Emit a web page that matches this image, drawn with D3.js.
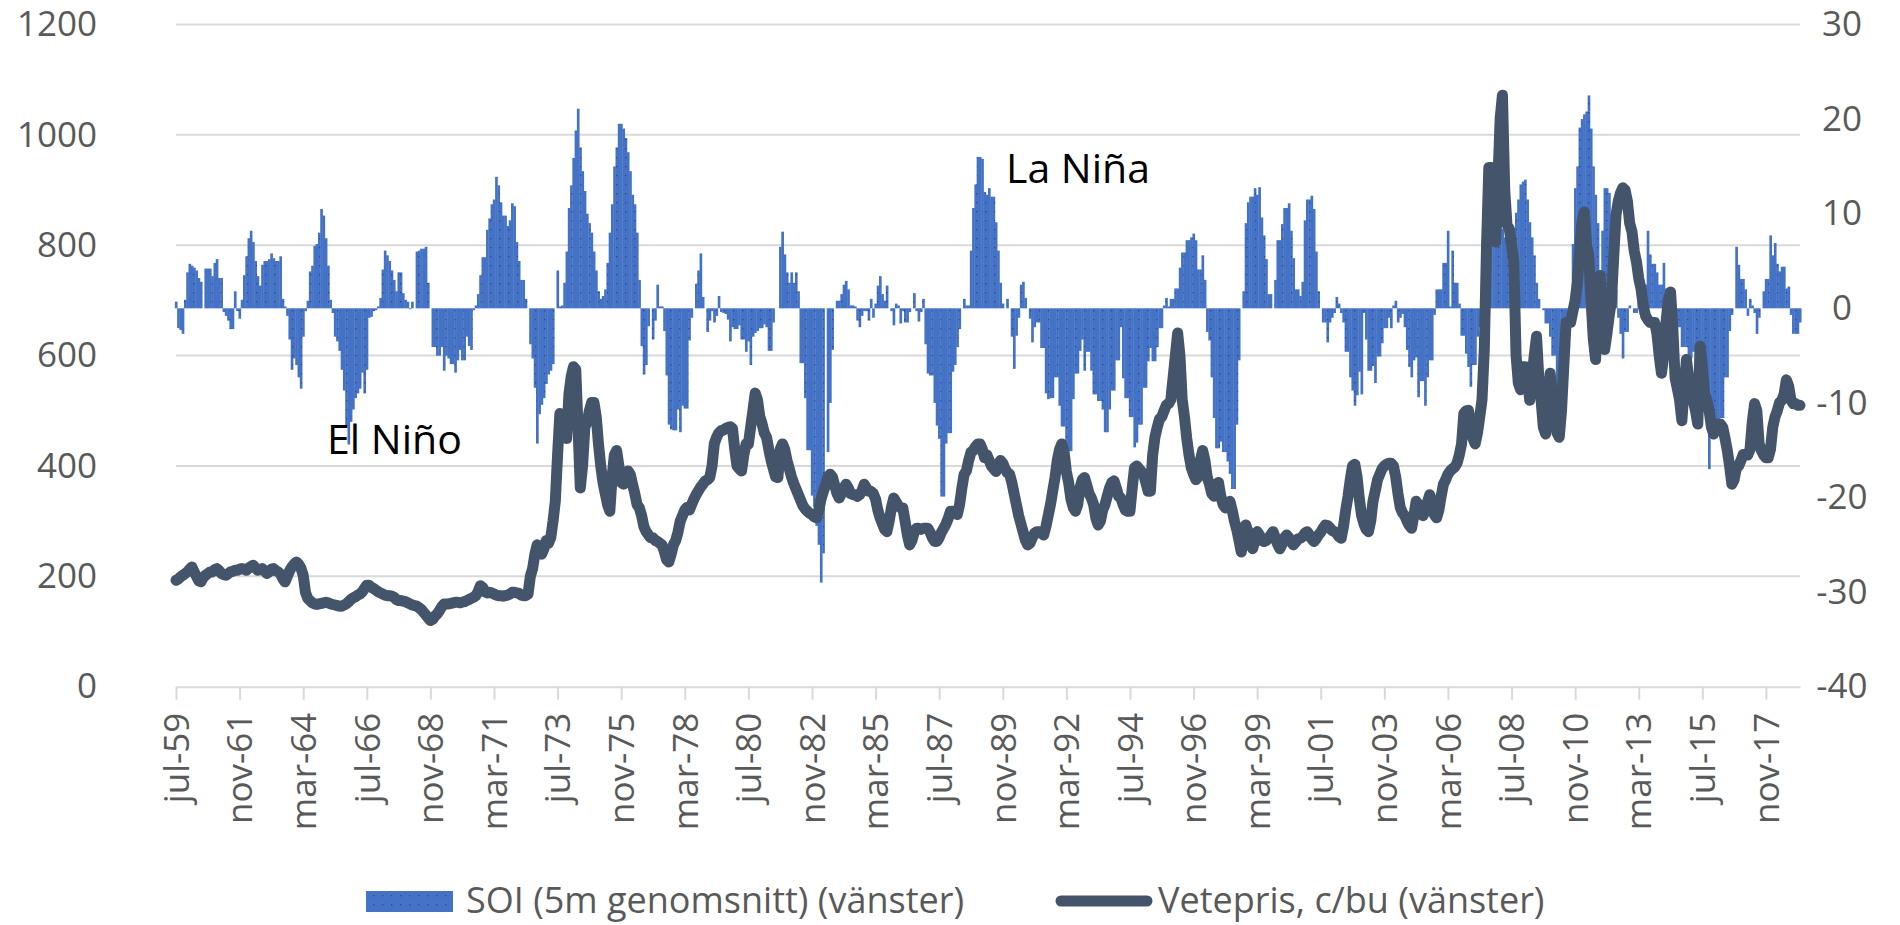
<!DOCTYPE html>
<html>
<head>
<meta charset="utf-8">
<script src="https://cdn.jsdelivr.net/npm/d3@7"></script>
<style>
  body { margin: 0; background: #fff; }
  text { font-family: "Open Sans", sans-serif; }
</style>
</head>
<body>
<script>

// monthly data, jul-59 .. feb-19
// SOI, 5 month average (right axis)
let soi_1959_1969 = [
	0.7, -2.1, -2.3, -2.7, 0.9, 3.8, 4.7, 4.5, 4.3, 4.0, 3.2, 2.8,
	0.0, 4.2, 4.2, 4.2, 3.4, 4.8, 5.2, 3.2, 3.2, -0.4, -0.8, -1.3,
	-2.2, -2.2, 1.8, -0.3, -1.1, 0.9, 3.5, 5.5, 7.4, 8.2, 7.0, 5.0,
	3.4, 2.4, 4.6, 5.0, 5.0, 5.2, 5.8, 5.3, 5.0, 5.0, 5.5, 1.0,
	0.2, -0.8, -3.3, -6.5, -5.3, -6.0, -7.3, -8.5, -3.0, -0.3, 0.8, 3.9,
	4.5, 6.6, 6.8, 8.0, 10.5, 9.8, 7.4, 4.5, 0.9, -0.5, -3.0, -3.5,
	-4.5, -6.5, -8.7, -12.4, -14.4, -12.0, -10.7, -9.5, -9.0, -8.5, -6.8, -9.0,
	-6.5, -1.0, -0.9, -0.3, -0.2, 0.2, 1.1, 4.1, 6.1, 5.6, 5.0, 4.0,
	3.0, 1.8, 3.8, 3.8, 1.6, 0.9, 0.7, -0.1, 0.7, 0.0, 6.0, 6.1,
	6.3, 6.3, 6.5, 2.7, 0.0, -4.1, -4.1, -5.0, -5.0, -4.1, -6.6, -5.0
];
let soi_1969_1979 = [
	-5.3, -5.9, -5.9, -6.8, -5.5, -4.4, -5.5, -5.5, -3.0, -4.0, -4.4, -0.2,
	0.3, 1.5, 3.5, 5.4, 5.4, 8.3, 9.5, 11.0, 11.5, 13.9, 13.0, 11.2,
	9.8, 9.8, 8.7, 9.3, 11.1, 10.8, 7.0, 5.0, 3.0, 3.0, 1.0, 0.0,
	-3.8, -5.3, -8.4, -14.3, -11.2, -10.2, -9.5, -8.0, -7.0, -6.6, -5.9, 0.0,
	4.0, 0.2, 0.3, 2.7, 6.0, 10.6, 13.0, 15.9, 18.8, 21.1, 17.0, 14.5,
	12.4, 10.0, 9.0, 8.0, 6.0, 4.0, 1.8, 1.0, 1.3, 2.0, 4.8, 8.0,
	11.0, 15.0, 17.0, 19.5, 19.5, 19.0, 18.0, 16.5, 14.5, 12.0, 11.0, 8.0,
	3.0, -4.0, -7.0, -6.0, -1.9, 0.0, -3.3, -1.3, 2.5, 0.2, 0.2, -2.4,
	-7.1, -12.3, -12.8, -12.9, -12.9, -10.7, -13.1, -10.3, -10.6, -10.6, -3.4, -1.0,
	0.0, 2.6, 4.0, 5.8, 1.2, 0.0, -2.5, -1.3, -0.3, -1.5, -0.8, 1.3
];
let soi_1979_1989 = [
	-0.4, -0.5, -0.6, -1.2, -3.5, -2.0, -2.2, -2.2, -1.8, -3.3, -3.3, -4.6,
	-3.5, -6.0, -3.0, -2.6, -2.4, -2.1, -2.1, -1.7, -2.0, -4.5, -4.5, -1.5,
	0.0, 0.0, 6.5, 8.1, 5.7, 3.8, 2.7, 3.8, 2.7, 3.8, 1.8, -5.8,
	-5.8, -9.5, -15.0, -15.0, -19.8, -21.0, -23.0, -25.0, -29.0, -25.9, 0.0, -15.2,
	-10.0, -4.4, 0.0, 0.8, 0.8, 1.5, 2.5, 2.9, 2.0, 0.3, 0.3, 0.2,
	-1.3, -2.0, -0.8, -0.3, -0.3, -1.3, 1.0, -1.0, 0.5, 2.4, 3.4, 1.5,
	0.8, 2.4, 0.0, -0.3, -1.8, 0.5, 0.3, -1.6, -0.3, -1.5, -1.5, -0.4,
	0.0, 1.6, -0.3, -1.4, -0.4, 1.0, -3.8, -6.9, -7.1, -7.1, -10.0, -12.4,
	-13.8, -19.9, -19.9, -14.3, -13.2, -13.2, -6.7, -6.0, -4.1, -2.2, 0.0, 1.0,
	0.3, 0.3, 6.1, 10.6, 13.1, 16.0, 16.0, 15.8, 12.3, 12.0, 12.7, 11.8
];
let soi_1989_1999 = [
	11.8, 9.1, 6.1, 2.7, 0.5, 0.0, 1.0, 0.0, -3.0, -6.4, -2.9, -1.0,
	2.5, 2.8, 1.1, 0.0, -1.1, -3.6, -2.0, -1.5, -1.5, -4.2, -4.2, -9.0,
	-9.6, -9.5, -9.5, -7.3, -7.3, -10.3, -12.5, -12.5, -14.5, -15.1, -15.1, -9.6,
	-6.9, -6.9, -4.5, -3.3, -6.6, -4.6, -4.6, -6.6, -9.1, -9.1, -9.8, -9.8,
	-10.7, -13.1, -13.1, -10.7, -8.7, -8.7, -5.5, -5.5, -2.0, -7.4, -9.5, -9.5,
	-11.5, -11.5, -14.7, -14.2, -12.3, -12.3, -8.4, -8.4, -5.6, -4.2, -5.6, -5.6,
	-4.1, -2.1, -2.1, 0.3, 1.1, 0.2, 1.0, 1.0, 2.1, 2.1, 4.3, 5.9,
	5.9, 7.2, 7.2, 7.5, 7.9, 7.2, 4.1, 4.1, 5.6, 3.0, -2.5, -3.4,
	-7.3, -11.6, -14.8, -14.8, -14.1, -15.2, -15.2, -16.2, -17.5, -19.1, -19.1, -12.3,
	-5.5, 0.0, 1.8, 9.0, 11.2, 11.8, 11.8, 12.7, 12.0, 12.8, 9.6, 7.7
];
let soi_1999_2009 = [
	5.2, 1.5, 1.5, 0.0, 3.0, 7.2, 7.2, 8.9, 10.6, 10.6, 11.1, 8.2,
	5.3, 2.0, 2.0, 1.3, 2.8, 9.3, 11.5, 11.5, 11.9, 10.5, 6.0, 1.8,
	0.0, -1.5, -1.5, -3.6, -1.5, -1.0, -0.5, 1.2, 0.5, -0.5, -1.5, -4.6,
	-4.6, -7.3, -8.7, -10.3, -9.2, -6.7, -9.1, -0.5, -3.3, -6.6, -6.6, -6.1,
	-7.9, -5.1, -5.1, -3.7, -2.1, -2.1, -1.0, -2.1, 0.3, 0.8, -1.5, -1.0,
	-0.6, -2.0, -4.4, -6.2, -7.3, -5.5, -5.2, -9.4, -7.7, -7.7, -10.3, -7.3,
	-5.5, -5.5, -0.7, 2.0, 2.0, 2.0, 4.8, 4.8, 8.2, 0.2, 6.1, 2.7,
	2.7, 0.5, -2.9, -2.9, -4.8, -6.2, -8.3, -6.0, -6.0, -3.0, -2.0, 0.0,
	2.0, 5.0, 8.0, 10.0, 10.5, 11.0, 10.0, 9.0, 8.4, 7.5, 7.0, 7.0,
	7.0, 8.5, 10.1, 11.5, 13.1, 13.4, 13.6, 11.5, 9.1, 7.5, 5.6, 2.7
];
let soi_2009_2019 = [
	1.0, 0.0, -0.2, -1.6, -1.6, -3.0, -5.0, -5.0, -8.7, -9.8, -7.0, -5.0,
	-3.0, -1.0, 0.0, 6.8, 12.7, 15.0, 19.1, 20.0, 20.5, 20.8, 22.5, 19.0,
	15.0, 12.0, 9.0, 4.0, 8.2, 12.7, 12.7, 12.2, 10.0, 7.0, 2.0, -1.0,
	-2.7, -5.3, -2.5, -2.5, 0.3, 0.0, -0.5, -0.5, 1.0, 1.0, 2.5, 2.5,
	8.2, 5.7, 4.7, 4.7, 3.8, 2.5, 2.5, 4.8, 2.1, 0.0, -1.0, -1.5,
	-1.5, -2.0, -2.0, -4.1, -4.1, -4.1, -5.3, -5.3, -4.6, -4.6, -6.6, -6.6,
	-7.3, -9.0, -9.0, -17.0, -12.4, -12.4, -13.1, -13.1, -11.6, -11.6, -7.3, -7.3,
	-2.4, -0.7, 0.0, 6.5, 4.6, 3.1, 3.1, 2.0, -0.8, 1.0, 0.3, -0.5,
	-2.7, -1.0, 0.0, 1.8, 3.1, 3.1, 7.7, 5.6, 6.9, 4.7, 3.9, 4.4,
	4.4, 2.1, 2.3, -0.7, -2.7, -2.7, -2.7, -1.5
];

// wheat price, c/bu (left axis)
let wheat_1959_1969 = [
	193, 195, 199, 202, 205, 208, 213, 217, 208, 200, 192, 190,
	198, 202, 205, 208, 208, 212, 214, 210, 205, 203, 202, 205,
	208, 209, 211, 211, 213, 214, 213, 211, 215, 218, 220, 215,
	211, 212, 214, 210, 205, 208, 213, 214, 210, 208, 204, 196,
	190, 200, 210, 217, 222, 226, 222, 215, 202, 171, 160, 156,
	152, 150, 149, 150, 151, 152, 153, 152, 150, 149, 148, 147,
	146, 146, 148, 150, 154, 158, 161, 163, 166, 168, 172, 178,
	184, 184, 180, 178, 175, 172, 170, 168, 166, 165, 165, 164,
	162, 158, 156, 156, 155, 154, 152, 150, 148, 147, 146, 143,
	140, 135, 130, 125, 120, 122, 128, 132, 138, 145, 150, 150
];
let wheat_1969_1979 = [
	150, 151, 152, 153, 153, 152, 153, 154, 156, 158, 160, 162,
	165, 172, 183, 180, 172, 170, 171, 170, 168, 166, 165, 165,
	164, 165, 166, 168, 171, 171, 170, 169, 166, 165, 165, 168,
	200, 214, 240, 257, 250, 240, 250, 265, 260, 270, 300, 336,
	420, 495, 490, 485, 450, 530, 562, 580, 575, 470, 360, 400,
	470, 480, 500, 515, 515, 490, 440, 400, 370, 350, 330, 318,
	380, 420, 428, 400, 370, 367, 380, 391, 385, 367, 350, 330,
	324, 310, 290, 281, 275, 270, 270, 265, 263, 260, 257, 245,
	230, 226, 240, 257, 265, 280, 300, 310, 320, 325, 320, 330,
	340, 348, 355, 362, 367, 373, 375, 379, 400, 440, 452, 460
];
let wheat_1979_1989 = [
	464, 465, 468, 470, 471, 468, 430, 400, 395, 391, 420, 440,
	440, 470, 500, 532, 520, 490, 477, 460, 452, 430, 410, 395,
	380, 379, 430, 440, 430, 410, 395, 380, 368, 358, 348, 338,
	328, 322, 318, 314, 312, 308, 306, 320, 340, 354, 365, 380,
	385, 380, 365, 350, 342, 350, 360, 367, 360, 350, 348, 348,
	345, 348, 355, 367, 360, 354, 354, 350, 340, 320, 306, 295,
	285, 281, 300, 325, 342, 335, 328, 324, 324, 300, 275, 257,
	265, 280, 287, 287, 285, 287, 287, 287, 280, 270, 263, 263,
	270, 280, 287, 295, 305, 318, 318, 315, 312, 330, 360, 385,
	391, 410, 425, 428, 435, 440, 440, 430, 415, 420, 410, 400
];
let wheat_1989_1999 = [
	395, 390, 403, 410, 405, 395, 388, 385, 370, 350, 330, 310,
	295, 280, 265, 257, 260, 270, 278, 281, 281, 278, 275, 290,
	310, 330, 355, 379, 410, 430, 440, 425, 390, 370, 340, 325,
	318, 330, 360, 375, 379, 365, 350, 342, 330, 305, 293, 300,
	320, 330, 345, 360, 370, 373, 360, 345, 342, 330, 320, 318,
	318, 360, 397, 400, 395, 390, 385, 370, 354, 354, 420, 452,
	470, 485, 489, 500, 510, 513, 520, 560, 600, 641, 600, 520,
	489, 450, 420, 397, 385, 375, 380, 410, 428, 410, 380, 367,
	350, 345, 367, 370, 345, 330, 324, 330, 336, 320, 300, 285,
	265, 244, 265, 293, 280, 260, 250, 265, 281, 275, 265, 263
];
let wheat_1999_2009 = [
	265, 269, 275, 281, 270, 258, 250, 258, 270, 275, 270, 262,
	257, 262, 268, 269, 272, 278, 281, 275, 268, 263, 268, 275,
	280, 287, 293, 292, 288, 283, 281, 278, 272, 269, 290, 320,
	345, 375, 400, 403, 380, 340, 310, 295, 285, 281, 300, 336,
	355, 375, 385, 395, 400, 403, 405, 405, 400, 380, 350, 325,
	315, 310, 300, 292, 287, 310, 336, 330, 318, 310, 318, 335,
	348, 330, 312, 306, 320, 345, 367, 375, 385, 391, 395, 398,
	405, 420, 440, 495, 500, 501, 480, 450, 440, 460, 489, 520,
	611, 800, 941, 941, 917, 806, 917, 1030, 1072, 900, 837, 830,
	800, 770, 600, 550, 538, 580, 580, 560, 519, 560, 600, 635
];
let wheat_2009_2019 = [
	560, 519, 470, 458, 520, 568, 530, 489, 460, 452, 500, 580,
	660, 660, 660, 680, 700, 733, 790, 843, 860, 800, 782, 700,
	630, 593, 700, 745, 680, 611, 640, 672, 700, 780, 855, 880,
	895, 904, 900, 880, 840, 825, 790, 770, 740, 721, 690, 672,
	665, 660, 660, 660, 640, 600, 568, 600, 660, 700, 715, 650,
	560, 540, 519, 482, 540, 593, 560, 530, 519, 500, 476, 617,
	580, 530, 519, 500, 470, 458, 470, 476, 476, 470, 450, 428,
	400, 367, 375, 397, 400, 410, 421, 421, 420, 430, 480, 513,
	500, 440, 428, 420, 415, 415, 430, 470, 489, 500, 515, 519,
	530, 556, 545, 520, 513, 513, 510, 510
];

let tickLabels = ["jul-59", "nov-61", "mar-64", "jul-66", "nov-68", "mar-71", "jul-73",
	"nov-75", "mar-78", "jul-80", "nov-82", "mar-85", "jul-87", "nov-89", "mar-92",
	"jul-94", "nov-96", "mar-99", "jul-01", "nov-03", "mar-06", "jul-08", "nov-10",
	"mar-13", "jul-15", "nov-17"];
let tickStep = 28; // months between labels

let leftTicks = [0, 200, 400, 600, 800, 1000, 1200];
let rightTicks = [-40, -30, -20, -10, 0, 10, 20, 30];

let soi = [].concat(soi_1959_1969, soi_1969_1979, soi_1979_1989, soi_1989_1999, soi_1999_2009, soi_2009_2019);
let wheat = [].concat(wheat_1959_1969, wheat_1969_1979, wheat_1979_1989, wheat_1989_1999, wheat_1999_2009, wheat_2009_2019);

let width = 1900;
let height = 925;

let margins = {
	top: 24.5,
	right: 100,
	bottom: 238.3,
	left: 176
};

let n = soi.length;

let xScale = d3.scaleLinear()
	.domain([0, n - 1])
	.range([margins.left, width - margins.right]);

let yLeft = d3.scaleLinear()
	.domain([0, 1200])
	.range([height - margins.bottom, margins.top]);

let yRight = d3.scaleLinear()
	.domain([-40, 30])
	.range([height - margins.bottom, margins.top]);

let svg = d3.select("body")
	.append("svg")
		.attr("width", width)
		.attr("height", height)
		.style("background", "#fff");

// dotted fill used by the SOI bars
let pat = svg.append("defs").append("pattern")
	.attr("id", "dots")
	.attr("patternUnits", "userSpaceOnUse")
	.attr("width", 9)
	.attr("height", 9);
pat.append("rect").attr("width", 9).attr("height", 9).attr("fill", "#4472C4");
pat.append("rect").attr("x", 4).attr("y", 4).attr("width", 1.3).attr("height", 1.3).attr("fill", "#3a3f9a");

// gridlines
svg.append("g")
	.selectAll("line")
	.data(leftTicks.slice(1))
	.join("line")
		.attr("x1", margins.left)
		.attr("x2", width - margins.right)
		.attr("y1", d => yLeft(d))
		.attr("y2", d => yLeft(d))
		.style("stroke", "#d9d9d9")
		.style("stroke-width", 2);

// SOI bars
let step = xScale(1) - xScale(0);
svg.append("g")
	.selectAll("rect")
	.data(soi)
	.join("rect")
		.attr("x", (d, i) => xScale(i) - step / 2)
		.attr("width", step + 0.4)
		.attr("y", d => Math.min(yRight(d), yRight(0)))
		.attr("height", d => Math.abs(yRight(d) - yRight(0)))
		.attr("fill", "url(#dots)");

// x axis
let xAxis = d3.axisBottom(xScale)
	.tickValues(tickLabels.map((d, i) => i * tickStep))
	.tickFormat((d, i) => tickLabels[i])
	.tickSize(13)
	.tickSizeOuter(0);

let gx = svg.append("g")
	.attr("transform", "translate(0," + yLeft(0) + ")")
	.call(xAxis);
gx.select(".domain").style("stroke", "#d9d9d9").style("stroke-width", 2);
gx.selectAll(".tick line").style("stroke", "#d9d9d9").style("stroke-width", 2);
gx.selectAll(".tick text")
	.attr("transform", "rotate(-90)")
	.attr("text-anchor", "end")
	.attr("x", -26)
	.attr("y", 0)
	.attr("dy", "0.35em")
	.style("font-size", "35px")
	.style("fill", "#595959");

// left axis
let gl = svg.append("g")
	.attr("transform", "translate(" + margins.left + ",0)")
	.call(d3.axisLeft(yLeft).tickValues(leftTicks).tickFormat(d => String(d)).tickSize(0).tickPadding(79));
gl.select(".domain").remove();
gl.selectAll("text").style("font-size", "35px").style("fill", "#595959");

// right axis
let gr = svg.append("g")
	.attr("transform", "translate(" + (width - margins.right) + ",0)")
	.call(d3.axisRight(yRight).tickValues(rightTicks).tickFormat(d => String(d)).tickSize(0).tickPadding(42));
gr.select(".domain").remove();
gr.selectAll("text")
	.attr("text-anchor", "middle")
	.style("font-size", "35px")
	.style("fill", "#595959");

// wheat price line
let valueline = d3.line()
	.x((d, i) => xScale(i))
	.y(d => yLeft(d));

svg.append("path")
	.datum(wheat)
	.attr("d", valueline)
	.style("fill", "none")
	.style("stroke", "#44546A")
	.style("stroke-width", 11)
	.style("stroke-linejoin", "round")
	.style("stroke-linecap", "round");

// annotations
svg.append("text")
	.attr("x", 327)
	.attr("y", 454)
	.style("font-size", "41px")
	.style("fill", "#000")
	.text("El Niño");

svg.append("text")
	.attr("x", 1006)
	.attr("y", 183)
	.style("font-size", "41px")
	.style("fill", "#000")
	.text("La Niña");

// legend
let legend = svg.append("g");
legend.append("rect")
	.attr("x", 366)
	.attr("y", 891)
	.attr("width", 87)
	.attr("height", 21)
	.attr("fill", "url(#dots)");
legend.append("text")
	.attr("x", 466)
	.attr("y", 913)
	.style("font-size", "36px")
	.style("fill", "#595959")
	.text("SOI (5m genomsnitt) (vänster)");
legend.append("line")
	.attr("x1", 1061)
	.attr("x2", 1147)
	.attr("y1", 901)
	.attr("y2", 901)
	.style("stroke", "#44546A")
	.style("stroke-width", 11)
	.style("stroke-linecap", "round");
legend.append("text")
	.attr("x", 1158)
	.attr("y", 913)
	.style("font-size", "36px")
	.style("fill", "#595959")
	.text("Vetepris, c/bu (vänster)");

</script>
</body>
</html>
